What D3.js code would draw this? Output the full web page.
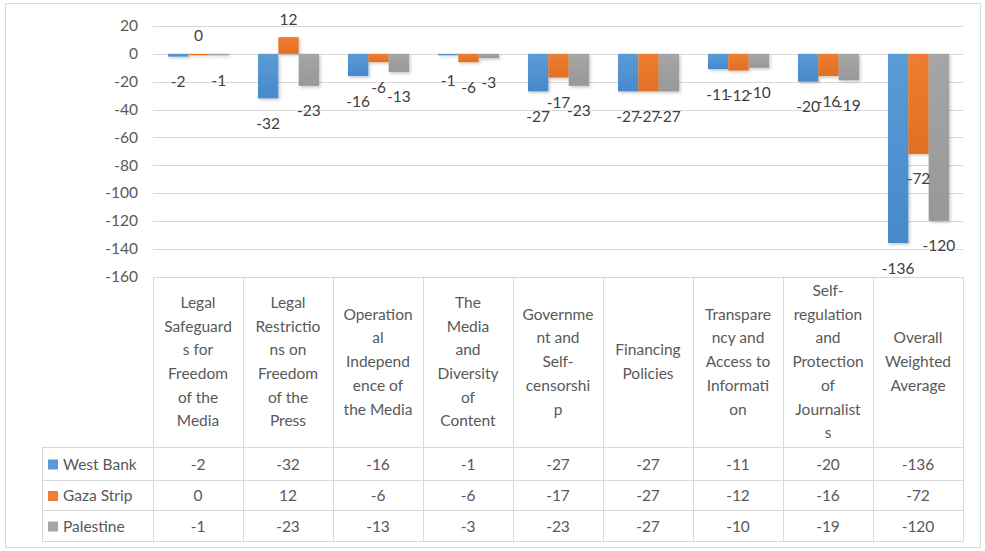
<!DOCTYPE html>
<html>
<head>
<meta charset="utf-8">
<script src="https://cdn.jsdelivr.net/npm/d3@7"></script>
<style>
  body { margin: 0; background: #fff; }
  svg { display: block; font-family: Lato, "Open Sans", sans-serif; }
</style>
</head>
<body>
<script>
// categories, wrapped the way the table header shows them
var categories = [
    ["Legal", "Safeguard", "s for", "Freedom", "of the", "Media"],
    ["Legal", "Restrictio", "ns on", "Freedom", "of the", "Press"],
    ["Operation", "al", "Independ", "ence of", "the Media"],
    ["The", "Media", "and", "Diversity", "of", "Content"],
    ["Governme", "nt and", "Self-", "censorshi", "p"],
    ["Financing", "Policies"],
    ["Transpare", "ncy and", "Access to", "Informati", "on"],
    ["Self-", "regulation", "and", "Protection", "of", "Journalist", "s"],
    ["Overall", "Weighted", "Average"]
];
var seriesNames = ["West Bank", "Gaza Strip", "Palestine"];
var westBank  = [-2, -32, -16, -1, -27, -27, -11, -20, -136];
var gazaStrip = [0, 12, -6, -6, -17, -27, -12, -16, -72];
var palestine = [-1, -23, -13, -3, -23, -27, -10, -19, -120];
var yTicks = [20, 0, -20, -40, -60, -80, -100, -120, -140, -160];

var colors = ["#5b9bd5", "#ed7d31", "#a5a5a5"];
var darker = ["#4789cb", "#e26f24", "#989898"];
var values = [westBank, gazaStrip, palestine];

var width = 985, height = 551;
var plotLeft = 153, plotRight = 963, plotTop = 26, plotBottom = 276.5;
var headerBottom = 447, rowH = [447, 480, 510, 541];
var legendLeft = 42;
var fontSize = 15.5;

var svg = d3.select("body").append("svg")
    .attr("width", width)
    .attr("height", height);

// gradients + shadow like the Excel bars
var defs = svg.append("defs");
colors.forEach(function(c, i) {
    var g = defs.append("linearGradient")
        .attr("id", "grad" + i)
        .attr("x1", 0).attr("y1", 0).attr("x2", 0).attr("y2", 1);
    g.append("stop").attr("offset", "0%").attr("stop-color", c);
    g.append("stop").attr("offset", "100%").attr("stop-color", darker[i]);
});
defs.append("filter").attr("id", "shadow")
    .attr("x", "-20%").attr("y", "-5%").attr("width", "150%").attr("height", "115%")
    .append("feDropShadow")
    .attr("dx", 1.5).attr("dy", 1.5).attr("stdDeviation", 1.5)
    .attr("flood-color", "#000").attr("flood-opacity", 0.22);

// outer frame
svg.append("rect")
    .attr("x", 5.5).attr("y", 3.5)
    .attr("width", 975).attr("height", 544)
    .attr("fill", "none").attr("stroke", "#d9d9d9");

var y = d3.scaleLinear().domain([-160, 20]).range([plotBottom, plotTop]);
var x = d3.scaleBand().domain(d3.range(categories.length)).range([plotLeft, plotRight]);
var xs = d3.scaleBand().domain(d3.range(seriesNames.length)).range([15, 76]);

// gridlines
svg.append("g").selectAll("line")
    .data(yTicks)
    .enter().append("line")
    .attr("x1", plotLeft).attr("x2", plotRight)
    .attr("y1", function(d) { return Math.round(y(d)) + 0.5; })
    .attr("y2", function(d) { return Math.round(y(d)) + 0.5; })
    .attr("stroke", "#d9d9d9");

// y axis labels
svg.append("g").selectAll("text")
    .data(yTicks)
    .enter().append("text")
    .attr("x", 138)
    .attr("y", function(d) { return y(d); })
    .attr("dy", "0.35em")
    .attr("text-anchor", "end")
    .attr("font-size", fontSize)
    .attr("fill", "#595959")
    .text(function(d) { return d; });

// bars
var groups = svg.append("g").selectAll("g")
    .data(values)
    .enter().append("g")
    .attr("fill", function(d, i) { return "url(#grad" + i + ")"; })
    .attr("filter", "url(#shadow)");

groups.each(function(series, si) {
    d3.select(this).selectAll("rect")
        .data(series)
        .enter().append("rect")
        .attr("x", function(d, i) { return x(i) + xs(si); })
        .attr("width", xs.bandwidth())
        .attr("y", function(d) { return y(Math.max(0, d)); })
        .attr("height", function(d) { return Math.max(Math.abs(y(d) - y(0)), 1.5); });
});

// data labels
values.forEach(function(series, si) {
    svg.append("g").selectAll("text")
        .data(series)
        .enter().append("text")
        .attr("x", function(d, i) { return x(i) + xs(si) + xs.bandwidth() / 2; })
        .attr("y", function(d) { return d < 0 ? y(d) + 25 : y(d) - 18; })
        .attr("dy", "0.35em")
        .attr("text-anchor", "middle")
        .attr("font-size", fontSize)
        .attr("fill", "#404040")
        .text(function(d) { return d; });
});

// data table
var grid = svg.append("g").attr("stroke", "#d9d9d9").attr("fill", "none");
d3.range(categories.length + 1).forEach(function(i) {
    var xx = Math.round(i < categories.length ? x(i) : plotRight) + 0.5;
    grid.append("line").attr("x1", xx).attr("x2", xx)
        .attr("y1", plotBottom).attr("y2", rowH[3]);
});
grid.append("line").attr("x1", legendLeft + 0.5).attr("x2", legendLeft + 0.5)
    .attr("y1", rowH[0]).attr("y2", rowH[3]);
rowH.forEach(function(r) {
    grid.append("line").attr("x1", legendLeft).attr("x2", plotRight)
        .attr("y1", r + 0.5).attr("y2", r + 0.5);
});

// header text
var lineH = 23.7;
var headMid = (plotBottom + headerBottom) / 2;
categories.forEach(function(lines, i) {
    var t = svg.append("text")
        .attr("text-anchor", "middle")
        .attr("font-size", fontSize)
        .attr("fill", "#595959");
    lines.forEach(function(s, k) {
        t.append("tspan")
            .attr("x", x(i) + x.bandwidth() / 2)
            .attr("y", headMid + (k - (lines.length - 1) / 2) * lineH)
            .attr("dy", "0.35em")
            .text(s);
    });
});

// legend rows + values
seriesNames.forEach(function(name, si) {
    var cy = (rowH[si] + rowH[si + 1]) / 2 + 1;
    svg.append("rect")
        .attr("x", 48).attr("y", cy - 5)
        .attr("width", 10).attr("height", 10)
        .attr("fill", colors[si]);
    svg.append("text")
        .attr("x", 63).attr("y", cy)
        .attr("dy", "0.35em")
        .attr("font-size", fontSize)
        .attr("fill", "#595959")
        .text(name);
    values[si].forEach(function(v, i) {
        svg.append("text")
            .attr("x", x(i) + x.bandwidth() / 2)
            .attr("y", cy)
            .attr("dy", "0.35em")
            .attr("text-anchor", "middle")
            .attr("font-size", fontSize)
            .attr("fill", "#595959")
            .text(v);
    });
});
</script>
</body>
</html>
